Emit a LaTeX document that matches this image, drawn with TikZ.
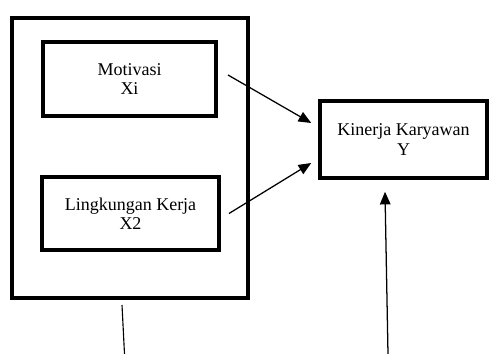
\documentclass[tikz,border=0pt]{standalone}
\usepackage{fontspec}
\setmainfont{Liberation Serif}
\usetikzlibrary{positioning,calc,arrows.meta}

\begin{document}
\begin{tikzpicture}[x=0.025cm,y=-0.025cm,
		every node/.style={font=\fontsize{12.8}{13.8}\selectfont},
		varbox/.style={rectangle,draw=black,line width=2.8pt,align=center,inner sep=0pt},
		arr/.style={line width=0.9pt,-{Triangle[length=9pt,width=7.5pt]}}]

				\useasboundingbox (0,0) rectangle (494,354);

				\node[varbox,minimum width=5.9cm,minimum height=7cm] (outerbox) at (130,158) {};
				\node[varbox,minimum width=4.325cm,minimum height=1.85cm] (motivasi) at (129.5,79) {Motivasi \\ Xi};
				\node[varbox,minimum width=4.425cm,minimum height=1.825cm] (lingkungan) at (130.5,213.5) {Lingkungan Kerja \\ X2};

				\node[varbox,line width=2.5pt,minimum width=4.175cm,minimum height=1.925cm] (kinerja) at (403.5,139.5) {Kinerja Karyawan \\ Y};

				\draw[arr] ($(motivasi.east)+(10,-4)$) -- ($(kinerja.west)+(-7,-16.5)$);
				\draw[arr] ($(lingkungan.east)+(8,0)$) -- ($(kinerja.west)+(-7,23.5)$);

				\coordinate (leftend) at (124.5,354);
				\coordinate (rightend) at (388,354);
				\draw[line width=0.8pt] ($(outerbox.south)+(-8,5)$) -- (leftend);
				\draw[arr] (rightend) -- ($(kinerja.south)+(-18.5,12)$);

			\end{tikzpicture}
\end{document}
